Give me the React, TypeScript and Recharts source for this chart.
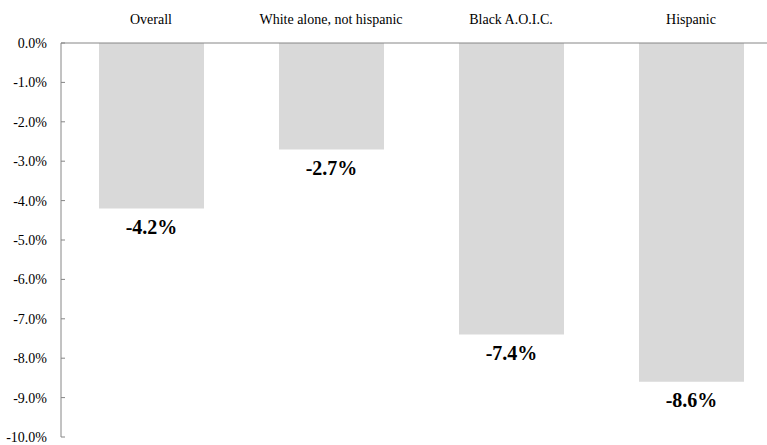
import { BarChart, Bar, XAxis, YAxis, LabelList } from 'recharts'

const categories = ['Overall', 'White alone, not hispanic', 'Black A.O.I.C.', 'Hispanic']
const changes = [-4.2, -2.7, -7.4, -8.6]
const yTicks = [0, -1, -2, -3, -4, -5, -6, -7, -8, -9, -10]

const data = categories.map((name, i) => ({ name, value: changes[i] }))

const AXIS_X = 61
const axisColor = '#868686'
const font = "'Liberation Serif', 'DejaVu Serif', serif"

const fmt = (v: number) => `${v.toFixed(1)}%`

const YTick = ({ y, payload }: any) => (
    <g>
        <line x1={AXIS_X} x2={AXIS_X + 4} y1={y} y2={y} stroke={axisColor} strokeWidth={1} />
        <text x={AXIS_X - 14} y={y} dy="0.35em" textAnchor="end" fontSize={14} fontFamily={font} fill="#000">
            {fmt(payload.value)}
        </text>
    </g>
)

const XTick = ({ x, y, payload }: any) => (
    <text x={x} y={y} textAnchor="middle" fontSize={14} fontFamily={font} fill="#000">
        {payload.value}
    </text>
)

const ValueLabel = ({ x, y, width, height, value }: any) => {
    const end = Math.max(y, y + height)
    return (
        <text
            x={x + width / 2}
            y={end + 11}
            dy="0.71em"
            textAnchor="middle"
            fontSize={20}
            fontWeight="bold"
            fontFamily={font}
            fill="#000"
        >
            {fmt(value)}
        </text>
    )
}

export default function App() {
    return (
        <div style={{ position: 'absolute', left: 0, top: 0, width: 767, height: 445, overflow: 'hidden', background: '#fff' }}>
            <BarChart
                width={781}
                height={445}
                data={data}
                margin={{ top: 0, right: 0, left: 0, bottom: 8 }}
                barSize={105}
            >
                <XAxis
                    dataKey="name"
                    orientation="top"
                    height={43}
                    tickLine={false}
                    tickSize={0}
                    tickMargin={19}
                    axisLine={{ stroke: axisColor }}
                    tick={<XTick />}
                    interval={0}
                />
                <YAxis
                    width={61}
                    domain={[-10, 0]}
                    ticks={yTicks}
                    interval={0}
                    tickLine={false}
                    axisLine={{ stroke: axisColor }}
                    tick={<YTick />}
                />
                <Bar dataKey="value" fill="#d9d9d9" isAnimationActive={false}>
                    <LabelList dataKey="value" content={<ValueLabel />} />
                </Bar>
            </BarChart>
        </div>
    )
}
